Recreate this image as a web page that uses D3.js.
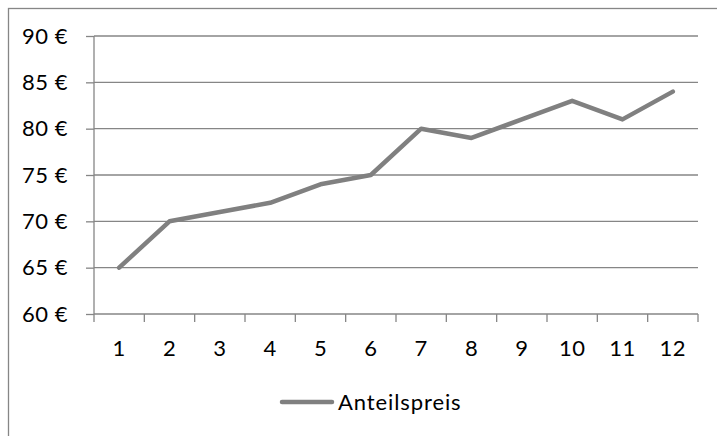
<!DOCTYPE html>
<html><head><meta charset="utf-8">
<script src="https://cdn.jsdelivr.net/npm/d3@7"></script>
<style>body{margin:0;background:#fff}svg{display:block}</style>
</head><body>
<script>
const categories = ["1","2","3","4","5","6","7","8","9","10","11","12"];
const values = [65, 70, 71, 72, 74, 75, 80, 79, 81, 83, 81, 84];
const yTicks = [60, 65, 70, 75, 80, 85, 90];
const seriesName = "Anteilspreis";

const W = 717, H = 436;
const svg = d3.select("body").append("svg").attr("width", W).attr("height", H);
const font = "Lato, 'Open Sans', sans-serif";
const grey = "#868686";

svg.append("rect").attr("x", 8.5).attr("y", 8.5).attr("width", 730).attr("height", 450)
  .attr("fill", "none").attr("stroke", grey).attr("stroke-width", 1.3);

const L = 94, R = 698, T = 36, B = 314;
const x = d3.scaleBand().domain(categories).range([L, R]);
const y = d3.scaleLinear().domain([60, 90]).range([B, T]);

// gridlines
svg.append("g").selectAll("line").data(yTicks.filter(d => d !== 60)).join("line")
  .attr("x1", L).attr("x2", R).attr("y1", d => y(d)).attr("y2", d => y(d))
  .attr("stroke", grey).attr("stroke-width", 1.3);

// y axis
const ya = svg.append("g").attr("transform", `translate(${L},0)`)
  .call(d3.axisLeft(y).tickValues(yTicks).tickSize(8).tickPadding(18).tickFormat(d => d + " €"));
ya.select(".domain").attr("stroke", grey).attr("stroke-width", 1.3).attr("d", `M0,${T}V${B}`);
ya.selectAll(".tick line").attr("stroke", grey).attr("stroke-width", 1.3);
ya.selectAll("text").attr("font-family", font).attr("font-size", 22).attr("letter-spacing", 0.5).attr("fill", "#000");

// x axis
const xa = svg.append("g").attr("transform", `translate(0,${B})`)
  .call(d3.axisBottom(x).tickSize(0).tickPadding(26));
xa.select(".domain").attr("stroke", grey).attr("stroke-width", 1.3).attr("d", `M${L},0H${R}`);
xa.selectAll("text").attr("font-family", font).attr("font-size", 22).attr("letter-spacing", 0.5).attr("fill", "#000");
const bounds = categories.map(c => x(c)).concat([R]);
svg.append("g").selectAll("line").data(bounds).join("line")
  .attr("x1", d => d).attr("x2", d => d).attr("y1", B).attr("y2", B + 8)
  .attr("stroke", grey).attr("stroke-width", 1.3);

// line
const line = d3.line().x((d, i) => x(categories[i]) + x.bandwidth() / 2).y(d => y(d));
svg.append("path").datum(values).attr("d", line).attr("fill", "none")
  .attr("stroke", "#808080").attr("stroke-width", 4.5).attr("stroke-linejoin", "round").attr("stroke-linecap", "round");

// legend
const lg = svg.append("g");
lg.append("line").attr("x1", 282).attr("x2", 332).attr("y1", 402).attr("y2", 402)
  .attr("stroke", "#808080").attr("stroke-width", 4.5).attr("stroke-linecap", "round");
lg.append("text").attr("x", 338).attr("y", 402).attr("dy", "0.35em")
  .attr("font-family", font).attr("font-size", 22).attr("letter-spacing", 0.9).attr("fill", "#000").text(seriesName);
</script>
</body></html>
